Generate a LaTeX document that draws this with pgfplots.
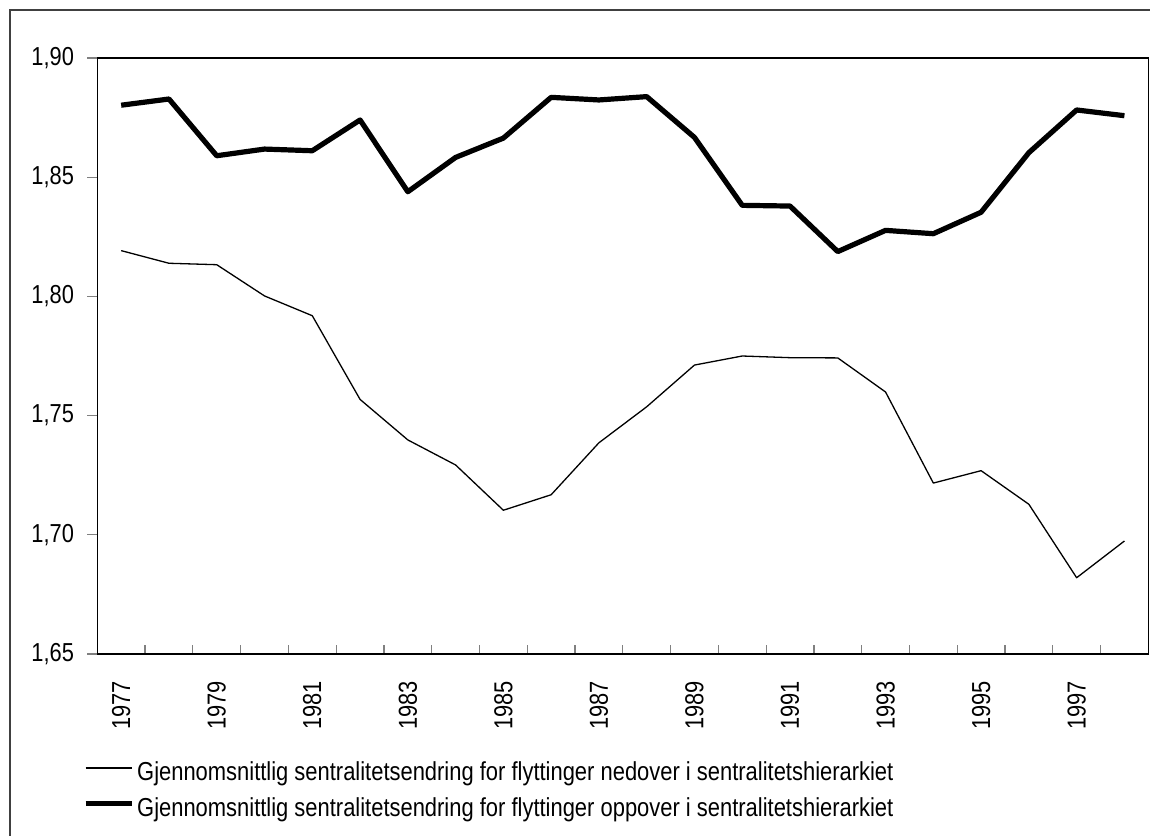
\documentclass[border=0pt]{standalone}
\usepackage{fontspec}
\setmainfont{Liberation Sans}[FakeStretch=0.84]
\newfontfamily\legfont{Liberation Sans}[FakeStretch=0.844]
\usepackage{pgfplots}
\pgfplotsset{compat=1.18}
\pgfplotstableread{
i thin thick
0 1.8192 1.8802
1 1.8139 1.8828
2 1.8133 1.8590
3 1.8002 1.8618
4 1.7919 1.8611
5 1.7568 1.8740
6 1.7398 1.8439
7 1.7293 1.8583
8 1.7103 1.8664
9 1.7168 1.8835
10 1.7386 1.8824
11 1.7537 1.8838
12 1.7712 1.8667
13 1.7750 1.8382
14 1.7743 1.8379
15 1.7742 1.8188
16 1.7599 1.8277
17 1.7217 1.8263
18 1.7269 1.8353
19 1.7128 1.8603
20 1.6820 1.8782
21 1.6974 1.8758
}\datatable
\pgfplotsset{
  frameaxis/.style={
    at={(48.65pt,-29pt)}, anchor=north west,
    scale only axis, width=525.5pt, height=298pt,
    xmin=-0.5, xmax=21.5, ymin=1.65, ymax=1.90,
    axis line style={line width=0.6pt},
    tick pos=left,
    tick label style={font=\fontsize{13pt}{15pt}\selectfont, inner sep=0pt},
  }
}
\begin{document}
\begin{tikzpicture}
\useasboundingbox (0,0) rectangle (575pt,-417.5pt);
\draw[line width=0.75pt, black!75] (5pt,-430pt) -- (5pt,-5pt) -- (590pt,-5pt);
% y ticks (outside)
\begin{axis}[frameaxis,
  tick align=outside, major tick length=5pt,
  xtick=\empty,
  ytick={1.65,1.7,1.75,1.8,1.85,1.9},
  major y tick style={line width=0.6pt},
  /pgf/number format/.cd, assume math mode=true, use comma, fixed, fixed zerofill, precision=2,
  /pgfplots/.cd,
  yticklabel style={xshift=-6.5pt},
]
\end{axis}
% main axis with data, x ticks (inside)
\begin{axis}[frameaxis,
  tick align=inside, minor tick length=4.5pt,
  ytick=\empty,
  xtick={0,2,...,20},
  xticklabels={1977,1979,1981,1983,1985,1987,1989,1991,1993,1995,1997},
  major x tick style={draw=none},
  minor xtick={-0.5,0.5,...,21.5},
  minor x tick style={line width=0.6pt},
  xticklabel style={yshift=-13.5pt, rotate=90, anchor=east},
  legend style={at={(-0.01361,-0.1812)}, anchor=north west, draw=none, fill=none,
    inner sep=0pt, outer sep=0pt, row sep=6.8pt, column sep=1.5pt,
    nodes={inner sep=0pt}, font=\legfont\fontsize{13pt}{15pt}\selectfont},
  legend cell align=left,
  legend image code/.code={\draw[#1] (0pt,2.5pt) -- (23pt,2.5pt);},
]
\addplot[black, line width=0.65pt, line join=round] table[x=i, y=thin] {\datatable};
\addlegendentry{Gjennomsnittlig sentralitetsendring for flyttinger nedover i sentralitetshierarkiet}
\addplot[black, line width=2.6pt, line join=round] table[x=i, y=thick] {\datatable};
\addlegendentry{Gjennomsnittlig sentralitetsendring for flyttinger oppover i sentralitetshierarkiet}
\end{axis}
\end{tikzpicture}
\end{document}
